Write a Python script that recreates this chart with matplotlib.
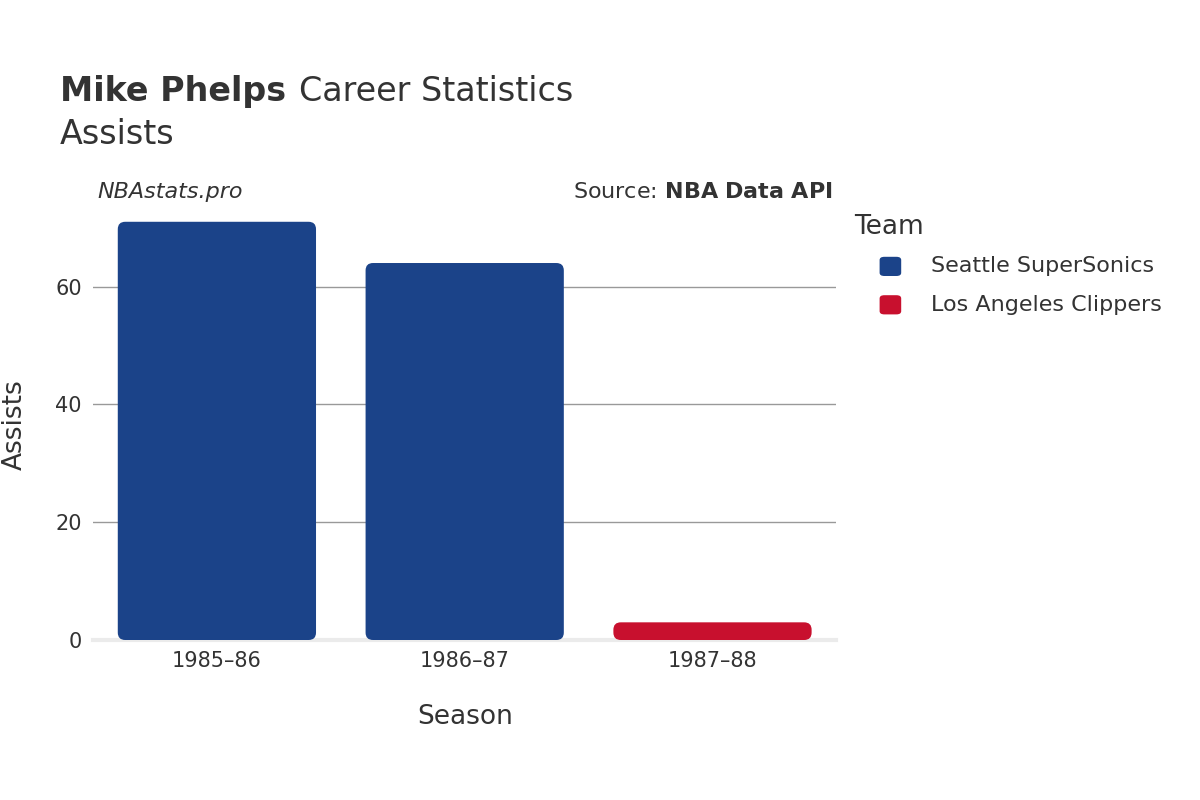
import matplotlib.pyplot as plt
from matplotlib.patches import FancyBboxPatch

seasons = ["1985–86", "1986–87", "1987–88"]
assists = [71, 64, 3]
teams = ["Seattle SuperSonics", "Seattle SuperSonics", "Los Angeles Clippers"]
team_colors = {"Seattle SuperSonics": "#1b4389", "Los Angeles Clippers": "#c8102e"}
legend_teams = ["Seattle SuperSonics", "Los Angeles Clippers"]

fig = plt.figure(figsize=(12, 8), dpi=100)
ax = fig.add_axes([0.0775, 0.2, 0.6195, 0.5375])
txt = "#333333"

bars = ax.bar(range(len(seasons)), assists, width=0.8,
              color=[team_colors[t] for t in teams])
for b in bars:
    b.set_visible(False)
    ax.add_patch(FancyBboxPatch((b.get_x(), b.get_y()), b.get_width(), b.get_height(),
                                boxstyle="round,pad=0,rounding_size=0.03",
                                mutation_aspect=42, facecolor=b.get_facecolor(),
                                edgecolor="none", zorder=3))

ax.set_xlim(-0.5, 2.5)
ax.set_ylim(0, 73)
ax.set_yticks([0, 20, 40, 60])
ax.set_xticks(range(len(seasons)))
ax.set_xticklabels(seasons)
ax.grid(axis="y", color="#999999", linewidth=1, zorder=0)
ax.set_axisbelow(True)
for s in ["top", "right", "left"]:
    ax.spines[s].set_visible(False)
ax.spines["bottom"].set_color("#ebebeb")
ax.spines["bottom"].set_linewidth(3)
ax.tick_params(axis="both", length=0, labelsize=15, colors=txt, pad=8)
ax.set_xlabel("Season", fontsize=19, color=txt, labelpad=24)
ax.set_ylabel("Assists", fontsize=19, color=txt, labelpad=20)

fig.text(0.05, 0.874, "Mike Phelps", fontsize=24, fontweight="bold", color=txt, va="baseline")
fig.text(0.2495, 0.874, "Career Statistics", fontsize=24, color=txt, va="baseline")
fig.text(0.05, 0.82, "Assists", fontsize=24, color=txt, va="baseline")
fig.text(0.081, 0.752, "NBAstats.pro", fontsize=16, style="italic", color=txt, va="baseline")
fig.text(0.694, 0.752, "Source: $\\bf{NBA\\ Data\\ API}$", fontsize=16, color=txt,
         va="baseline", ha="right")

fig.text(0.712, 0.707, "Team", fontsize=19, color=txt, va="baseline")
for i, t in enumerate(legend_teams):
    y = 0.667 - i * 0.048
    fig.patches.append(FancyBboxPatch((0.733, y - 0.012), 0.018, 0.024,
                                      boxstyle="round,pad=0,rounding_size=0.004",
                                      transform=fig.transFigure, facecolor=team_colors[t],
                                      edgecolor="none"))
    fig.text(0.776, y, t, fontsize=16, color=txt, va="center")

fig.savefig("out.png")
